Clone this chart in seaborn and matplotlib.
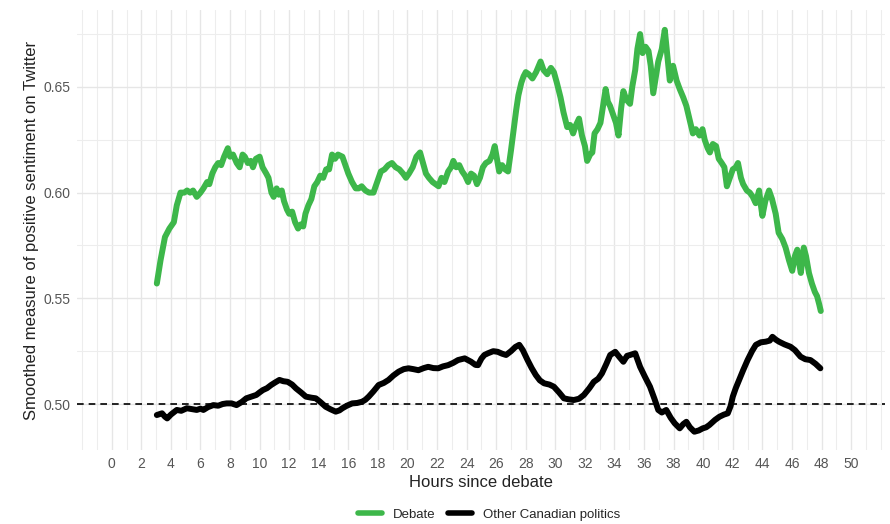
import pandas as pd
import matplotlib.pyplot as plt
import seaborn as sns
from matplotlib.ticker import MultipleLocator

# Values
debate_hours = [3.05, 3.3, 3.6, 3.9, 4.2, 4.4, 4.65, 4.9, 5.1, 5.3, 5.5, 5.75, 6.0, 6.2, 6.45, 6.6, 6.8, 7.0,
                7.2, 7.4, 7.6, 7.85, 8.0, 8.2, 8.45, 8.65, 8.85, 9.0, 9.2, 9.4, 9.55, 9.75, 10.0, 10.2, 10.45,
                10.6, 10.8, 10.95, 11.15, 11.3, 11.5, 11.65, 11.85, 12.0, 12.2, 12.4, 12.6, 12.8, 12.95, 13.1,
                13.3, 13.5, 13.7, 13.9, 14.1, 14.3, 14.5, 14.7, 14.9, 15.1, 15.3, 15.6, 15.8, 16.0, 16.25,
                16.5, 16.7, 16.9, 17.15, 17.4, 17.7, 17.95, 18.2, 18.45, 18.7, 18.95, 19.2, 19.45, 19.7, 19.9,
                20.1, 20.35, 20.6, 20.85, 21.05, 21.25, 21.45, 21.7, 21.9, 22.1, 22.3, 22.5, 22.75, 22.95,
                23.1, 23.3, 23.5, 23.7, 23.9, 24.1, 24.3, 24.5, 24.7, 24.9, 25.1, 25.3, 25.55, 25.75, 25.9,
                26.05, 26.2, 26.4, 26.6, 26.8, 27.0, 27.15, 27.35, 27.5, 27.7, 27.85, 28.0, 28.2, 28.45, 28.7,
                29.0, 29.2, 29.45, 29.7, 29.9, 30.1, 30.35, 30.55, 30.8, 31.0, 31.2, 31.4, 31.6, 31.8, 32.0,
                32.15, 32.35, 32.5, 32.65, 32.85, 33.05, 33.2, 33.4, 33.55, 33.7, 33.9, 34.1, 34.27, 34.45,
                34.6, 34.8, 35.05, 35.2, 35.4, 35.55, 35.73, 35.9, 36.1, 36.3, 36.45, 36.62, 36.8, 36.96,
                37.2, 37.4, 37.6, 37.74, 37.96, 38.2, 38.41, 38.65, 38.86, 39.1, 39.3, 39.5, 39.75, 39.95,
                40.1, 40.3, 40.45, 40.65, 40.87, 41.05, 41.25, 41.43, 41.6, 41.8, 42.0, 42.2, 42.35, 42.55,
                42.7, 42.95, 43.15, 43.35, 43.55, 43.78, 43.9, 44.0, 44.2, 44.45, 44.65, 44.9, 45.1, 45.35,
                45.57, 45.8, 46.02, 46.2, 46.36, 46.5, 46.6, 46.8, 46.95, 47.15, 47.35, 47.55, 47.7, 47.85,
                47.95]
debate_sent = [0.557, 0.568, 0.579, 0.583, 0.586, 0.594, 0.600, 0.600, 0.601, 0.600, 0.601, 0.598, 0.600,
               0.602, 0.605, 0.604, 0.609, 0.612, 0.614, 0.613, 0.617, 0.621, 0.617, 0.618, 0.614, 0.612,
               0.618, 0.617, 0.614, 0.615, 0.612, 0.616, 0.617, 0.612, 0.609, 0.607, 0.600, 0.598, 0.602,
               0.599, 0.601, 0.596, 0.592, 0.590, 0.591, 0.586, 0.583, 0.585, 0.584, 0.590, 0.594, 0.597,
               0.603, 0.605, 0.608, 0.607, 0.611, 0.611, 0.618, 0.616, 0.618, 0.617, 0.613, 0.609, 0.605,
               0.602, 0.602, 0.603, 0.601, 0.600, 0.600, 0.605, 0.610, 0.611, 0.613, 0.614, 0.612, 0.611,
               0.609, 0.607, 0.609, 0.612, 0.617, 0.619, 0.614, 0.609, 0.607, 0.605, 0.604, 0.603, 0.607,
               0.605, 0.610, 0.612, 0.615, 0.612, 0.613, 0.610, 0.608, 0.605, 0.609, 0.608, 0.604, 0.607,
               0.612, 0.614, 0.615, 0.618, 0.622, 0.616, 0.610, 0.613, 0.611, 0.610, 0.620, 0.628, 0.639,
               0.646, 0.652, 0.655, 0.657, 0.656, 0.654, 0.657, 0.662, 0.658, 0.656, 0.659, 0.657, 0.652,
               0.645, 0.638, 0.631, 0.632, 0.628, 0.632, 0.635, 0.627, 0.622, 0.615, 0.618, 0.619, 0.628,
               0.630, 0.633, 0.640, 0.649, 0.643, 0.641, 0.637, 0.633, 0.627, 0.640, 0.648, 0.644, 0.642,
               0.650, 0.658, 0.668, 0.675, 0.666, 0.669, 0.667, 0.660, 0.647, 0.655, 0.662, 0.668, 0.677,
               0.663, 0.653, 0.660, 0.653, 0.649, 0.645, 0.641, 0.634, 0.628, 0.630, 0.627, 0.630, 0.625,
               0.621, 0.619, 0.623, 0.622, 0.616, 0.614, 0.612, 0.603, 0.607, 0.611, 0.612, 0.614, 0.607,
               0.604, 0.601, 0.600, 0.598, 0.595, 0.601, 0.594, 0.589, 0.596, 0.601, 0.597, 0.590, 0.581,
               0.578, 0.574, 0.568, 0.563, 0.570, 0.573, 0.566, 0.562, 0.574, 0.570, 0.562, 0.557, 0.553,
               0.551, 0.547, 0.544]

other_hours = [3.05, 3.4, 3.6, 3.75, 4.0, 4.4, 4.7, 5.08, 5.4, 5.75, 6.0, 6.2, 6.5, 6.87, 7.2, 7.5, 7.77,
               8.1, 8.44, 8.8, 9.1, 9.45, 9.78, 10.0, 10.22, 10.5, 10.78, 11.05, 11.34, 11.6, 11.9, 12.2,
               12.46, 12.8, 13.13, 13.5, 13.8, 14.1, 14.47, 14.8, 15.15, 15.4, 15.6, 15.9, 16.26, 16.6,
               16.93, 17.15, 17.38, 17.7, 18.05, 18.4, 18.72, 19.05, 19.4, 19.75, 20.07, 20.4, 20.74, 21.1,
               21.4, 21.75, 22.08, 22.4, 22.75, 23.1, 23.42, 23.87, 24.3, 24.6, 24.77, 25.0, 25.2, 25.44,
               25.8, 26.1, 26.4, 26.67, 27.0, 27.3, 27.56, 27.8, 28.12, 28.4, 28.68, 28.95, 29.24, 29.6,
               29.9, 30.25, 30.58, 30.9, 31.25, 31.6, 31.93, 32.3, 32.6, 32.9, 33.15, 33.45, 33.71, 34.05,
               34.3, 34.6, 34.85, 35.05, 35.4, 35.73, 36.05, 36.4, 36.7, 36.96, 37.2, 37.5, 37.8, 38.07,
               38.41, 38.65, 38.86, 39.1, 39.4, 39.7, 39.97, 40.2, 40.42, 40.8, 41.1, 41.4, 41.66, 41.85,
               42.0, 42.2, 42.43, 42.7, 43.0, 43.3, 43.56, 43.9, 44.23, 44.5, 44.68, 44.9, 45.12, 45.5,
               45.9, 46.2, 46.58, 46.9, 47.25, 47.6, 47.92]
other_sent = [0.4948, 0.4956, 0.4940, 0.4932, 0.4950, 0.4972, 0.4968, 0.4980, 0.4976, 0.4972, 0.4978,
              0.4972, 0.4985, 0.4995, 0.4992, 0.5000, 0.5003, 0.5003, 0.4995, 0.5010, 0.5027, 0.5035,
              0.5043, 0.5055, 0.5066, 0.5075, 0.5090, 0.5102, 0.5114, 0.5108, 0.5105, 0.5092, 0.5074,
              0.5055, 0.5035, 0.5030, 0.5027, 0.5010, 0.4987, 0.4975, 0.4964, 0.4970, 0.4980, 0.4992,
              0.5003, 0.5005, 0.5011, 0.5020, 0.5035, 0.5060, 0.5090, 0.5100, 0.5114, 0.5135, 0.5153,
              0.5165, 0.5169, 0.5165, 0.5160, 0.5170, 0.5176, 0.5170, 0.5169, 0.5178, 0.5184, 0.5195,
              0.5208, 0.5216, 0.5200, 0.5185, 0.5184, 0.5215, 0.5232, 0.5240, 0.5250, 0.5247, 0.5238,
              0.5232, 0.5250, 0.5270, 0.5280, 0.5255, 0.5208, 0.5170, 0.5137, 0.5112, 0.5098, 0.5092,
              0.5082, 0.5055, 0.5027, 0.5022, 0.5019, 0.5025, 0.5043, 0.5075, 0.5105, 0.5120, 0.5145,
              0.5190, 0.5232, 0.5247, 0.5225, 0.5200, 0.5228, 0.5232, 0.5240, 0.5176, 0.5130, 0.5082,
              0.5025, 0.4972, 0.4960, 0.4972, 0.4935, 0.4909, 0.4885, 0.4905, 0.4916, 0.4890, 0.4869,
              0.4875, 0.4885, 0.4890, 0.4901, 0.4925, 0.4940, 0.4950, 0.4956, 0.4990, 0.5035, 0.5075,
              0.5114, 0.5160, 0.5208, 0.5250, 0.5280, 0.5292, 0.5295, 0.5300, 0.5318, 0.5305, 0.5295,
              0.5282, 0.5271, 0.5255, 0.5224, 0.5212, 0.5208, 0.5190, 0.5169]

series_names = ["Debate", "Other Canadian politics"]
x_ticks = list(range(0, 51, 2))
y_ticks = [0.50, 0.55, 0.60, 0.65]

df = pd.concat([
    pd.DataFrame({"hours": debate_hours, "sentiment": debate_sent, "topic": series_names[0]}),
    pd.DataFrame({"hours": other_hours, "sentiment": other_sent, "topic": series_names[1]}),
])

sns.set_theme(style="whitegrid")
plt.rcParams['font.family'] = ['Liberation Sans', 'DejaVu Sans']

fig = plt.figure(figsize=(8.9, 5.24), dpi=100)
ax = fig.add_axes([0.0865, 0.141, 0.908, 0.840])

ax.axhline(0.5, color="black", linestyle=(0, (4, 3)), linewidth=1.2, zorder=1)
sns.lineplot(data=df, x="hours", y="sentiment", hue="topic", sort=False,
             palette={"Debate": "#3DB74A", "Other Canadian politics": "black"},
             linewidth=4.3, ax=ax, zorder=3, legend=True)

ax.set_xlim(-2.35, 52.3)
ax.set_ylim(0.4782, 0.6864)
ax.set_xticks(x_ticks)
ax.set_yticks(y_ticks)
ax.set_yticklabels([f"{v:.2f}" for v in y_ticks])
ax.xaxis.set_minor_locator(MultipleLocator(1))
ax.yaxis.set_minor_locator(MultipleLocator(0.025))
ax.grid(which="major", color="#E6E6E6", linewidth=1.0)
ax.grid(which="minor", color="#EDEDED", linewidth=0.8)
for s in ax.spines.values():
    s.set_visible(False)
ax.tick_params(axis="both", which="major", length=3, width=1, color="#333333",
               labelsize=10, labelcolor="#555555", pad=2)
ax.tick_params(which="minor", length=0)

ax.set_xlabel("Hours since debate", fontsize=12, color="#222222", labelpad=3)
ax.set_ylabel("Smoothed measure of positive sentiment on Twitter", fontsize=12, color="#222222", labelpad=3)

handles, labels = ax.get_legend_handles_labels()
ax.get_legend().remove()
leg = fig.legend(handles, labels, loc="center", bbox_to_anchor=(489 / 890, 0.018), ncol=2,
                 frameon=False, fontsize=9.5, handlelength=1.8, columnspacing=1.0, handletextpad=0.8)
for line in leg.get_lines():
    line.set_linewidth(4)

fig.savefig("out.png", dpi=100)
